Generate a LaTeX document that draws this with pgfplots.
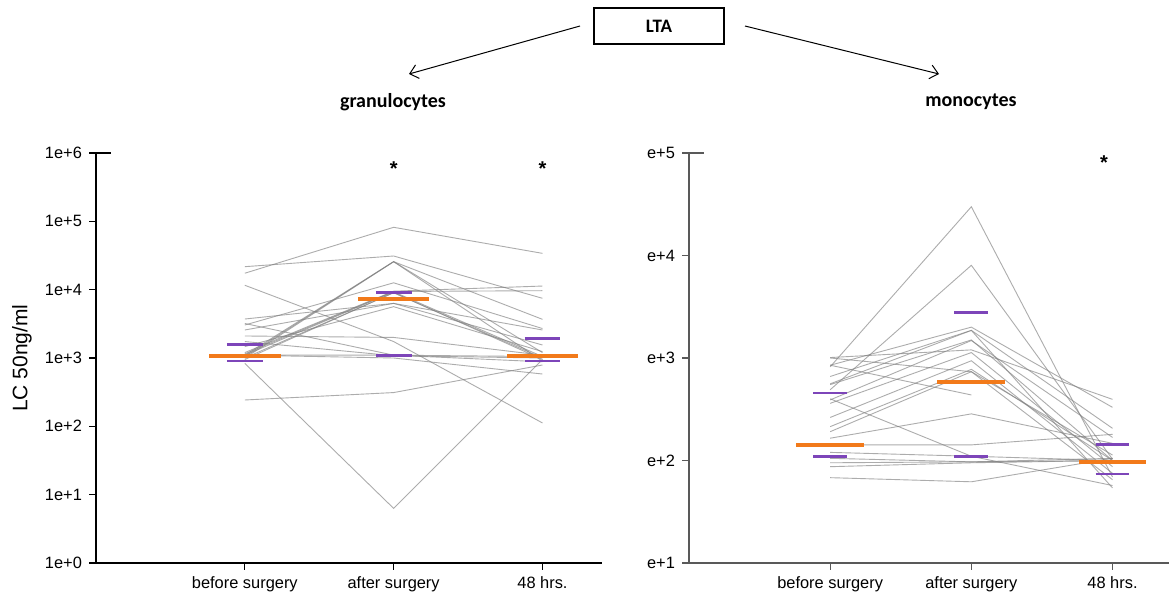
\documentclass[border=0pt]{standalone}
\usepackage{pgfplots}
\pgfplotsset{compat=1.18}
\usepackage{fontspec}
\setmainfont{Liberation Sans}
\newfontfamily\calibri{Carlito}
\usetikzlibrary{arrows.meta}
\definecolor{medorange}{HTML}{F27A1A}
\definecolor{qpurple}{HTML}{7D45B9}
\definecolor{subjgray}{HTML}{7F7F7F}

% 1 px of the reference = 0.5pt
\tikzset{
  subj/.style={subjgray, line width=0.45pt, opacity=0.65},
  med/.style={medorange, line width=2pt},
  qrt/.style={qpurple, line width=1.4pt},
}

\begin{document}
\begin{tikzpicture}
\useasboundingbox (0,0) rectangle (584.5pt,-299.5pt);

% header
\draw[line width=0.7pt] (297pt,-4pt) rectangle (362pt,-22pt);
\node[font=\calibri\bfseries\fontsize{9.5}{10}\selectfont] at (329.5pt,-13pt) {LTA};
\draw[line width=0.5pt,-{Straight Barb[length=4pt,width=7pt]}] (290pt,-13pt) -- (204.5pt,-37pt);
\draw[line width=0.5pt,-{Straight Barb[length=4pt,width=7pt]}] (372.5pt,-13pt) -- (469.5pt,-37pt);
\node[font=\calibri\bfseries\fontsize{10}{11}\selectfont] at (196.5pt,-51pt) {granulocytes};
\node[font=\calibri\bfseries\fontsize{10}{11}\selectfont] at (485.5pt,-51pt) {monocytes};
\node[rotate=90,font=\fontsize{10.5}{12}\selectfont] at (11pt,-179pt) {LC 50ng/ml};

% granulocytes
\begin{axis}[scale only axis, width=253pt, height=205pt,
  at={(48pt,-281.5pt)}, anchor=south west,
  xmin=0, xmax=3.4, ymode=log, ymin=1, ymax=1e6,
  axis x line=bottom, axis y line=left,
  axis line style={-, line width=0.6pt},
  tick align=outside, major tick length=3.5pt, yminorticks=false,
  tick style={line width=0.6pt, black},
  xtick={1,2,3}, xticklabels={before surgery,after surgery,48 hrs.},
  ytick={1,10,100,1000,10000,100000,1000000},
  yticklabels={1e+0,1e+1,1e+2,1e+3,1e+4,1e+5,1e+6},
  tick label style={font=\fontsize{8.2}{9}\selectfont},
  clip=false]
\addplot[subj] coordinates {(1,17400) (2,81800) (3,34000)};
\addplot[subj] coordinates {(1,21700) (2,31100) (3,7480)};
\addplot[subj] coordinates {(1,11600) (2,1740) (3,112)};
\addplot[subj] coordinates {(1,1100) (2,25700) (3,3680)};
\addplot[subj] coordinates {(1,1000) (2,25700) (3,900)};
\addplot[subj] coordinates {(1,1050) (2,25700) (3,1200)};
\addplot[subj] coordinates {(1,3040) (2,12600) (3,2700)};
\addplot[subj] coordinates {(1,1100) (2,9300) (3,1050)};
\addplot[subj] coordinates {(1,1000) (2,9000) (3,1000)};
\addplot[subj] coordinates {(1,950) (2,9100) (3,950)};
\addplot[subj] coordinates {(1,1200) (2,9500) (3,11300)};
\addplot[subj] coordinates {(1,1150) (2,9400) (3,9660)};
\addplot[subj] coordinates {(1,2570) (2,6300) (3,2570)};
\addplot[subj] coordinates {(1,3720) (2,6300) (3,1550)};
\addplot[subj] coordinates {(1,1470) (2,5640) (3,1240)};
\addplot[subj] coordinates {(1,2100) (2,2000) (3,1100)};
\addplot[subj] coordinates {(1,1100) (2,1100) (3,1050)};
\addplot[subj] coordinates {(1,243) (2,312) (3,790)};
\addplot[subj] coordinates {(1,835) (2,6.3) (3,950)};
\addplot[subj] coordinates {(1,1100) (2,1000) (3,583)};
\addplot[subj] coordinates {(1,1740) (2,1080) (3,1000)};
\addplot[subj] coordinates {(1,3200) (2,1100) (3,880)};
% quartiles
\addplot[qrt] coordinates {(0.88,1590) (1.12,1590)};
\addplot[qrt] coordinates {(0.88,904) (1.12,904)};
\addplot[qrt] coordinates {(1.88,9040) (2.12,9040)};
\addplot[qrt] coordinates {(1.88,1090) (2.12,1090)};
\addplot[qrt] coordinates {(2.88,1940) (3.12,1940)};
\addplot[qrt] coordinates {(2.88,904) (3.12,904)};
% medians
\addplot[med] coordinates {(0.76,1080) (1.24,1080)};
\addplot[med] coordinates {(1.76,7380) (2.24,7380)};
\addplot[med] coordinates {(2.76,1080) (3.24,1080)};
\node[font=\bfseries\fontsize{10}{10}\selectfont] at (axis cs:2,6.0e5) {*};
\node[font=\bfseries\fontsize{10}{10}\selectfont] at (axis cs:3,6.0e5) {*};
\draw[line width=0.6pt] (rel axis cs:0,1) -- ([xshift=7.5pt]rel axis cs:0,1);
\end{axis}

% monocytes
\begin{axis}[scale only axis, width=240pt, height=205pt,
  at={(344.5pt,-281.5pt)}, anchor=south west,
  xmin=0, xmax=3.4, ymode=log, ymin=10, ymax=1e5,
  axis x line=bottom, axis y line=left,
  axis line style={-, line width=0.6pt, black!65},
  tick align=outside, major tick length=3.5pt, yminorticks=false,
  tick style={line width=0.6pt, black!65},
  xtick={1,2,3}, xticklabels={before surgery,after surgery,48 hrs.},
  ytick={10,100,1000,10000,100000},
  yticklabels={e+1,e+2,e+3,e+4,e+5},
  tick label style={font=\fontsize{8.2}{9}\selectfont},
  clip=false]
\addplot[subj] coordinates {(1,820) (2,29900) (3,69)};
\addplot[subj] coordinates {(1,490) (2,8020) (3,103)};
\addplot[subj] coordinates {(1,1010) (2,1200) (3,395)};
\addplot[subj] coordinates {(1,850) (2,2000) (3,330)};
\addplot[subj] coordinates {(1,660) (2,1860) (3,206)};
\addplot[subj] coordinates {(1,550) (2,1500) (3,100)};
\addplot[subj] coordinates {(1,850) (2,436)};
\addplot[subj] coordinates {(1,390) (2,1480) (3,168)};
\addplot[subj] coordinates {(1,361) (2,1130) (3,87)};
\addplot[subj] coordinates {(1,263) (2,940) (3,75)};
\addplot[subj] coordinates {(1,214) (2,775) (3,100)};
\addplot[subj] coordinates {(1,191) (2,735) (3,65)};
\addplot[subj] coordinates {(1,165) (2,285) (3,147)};
\addplot[subj] coordinates {(1,142) (2,142) (3,180)};
\addplot[subj] coordinates {(1,105) (2,97) (3,105)};
\addplot[subj] coordinates {(1,95) (2,97) (3,100)};
\addplot[subj] coordinates {(1,87) (2,95) (3,100)};
\addplot[subj] coordinates {(1,68) (2,62) (3,105)};
\addplot[subj] coordinates {(1,120) (2,110) (3,57)};
\addplot[subj] coordinates {(1,400) (2,110) (3,100)};
\addplot[subj] coordinates {(1,560) (2,1860) (3,54)};
\addplot[subj] coordinates {(1,1000) (2,735) (3,113)};
% quartiles
\addplot[qrt] coordinates {(0.88,456) (1.12,456)};
\addplot[qrt] coordinates {(0.88,110) (1.12,110)};
\addplot[qrt] coordinates {(1.88,2790) (2.12,2790)};
\addplot[qrt] coordinates {(1.88,110) (2.12,110)};
\addplot[qrt] coordinates {(2.88,142) (3.12,142)};
\addplot[qrt] coordinates {(2.88,74) (3.12,74)};
% medians
\addplot[med] coordinates {(0.76,142) (1.24,142)};
\addplot[med] coordinates {(1.76,587) (2.24,587)};
\addplot[med] coordinates {(2.76,96) (3.24,96)};
\node[font=\bfseries\fontsize{10}{10}\selectfont] at (axis cs:2.94,8.05e4) {*};
\draw[line width=0.6pt, black!65] (rel axis cs:0,1) -- ([xshift=7.5pt]rel axis cs:0,1);
\end{axis}
\end{tikzpicture}
\end{document}
